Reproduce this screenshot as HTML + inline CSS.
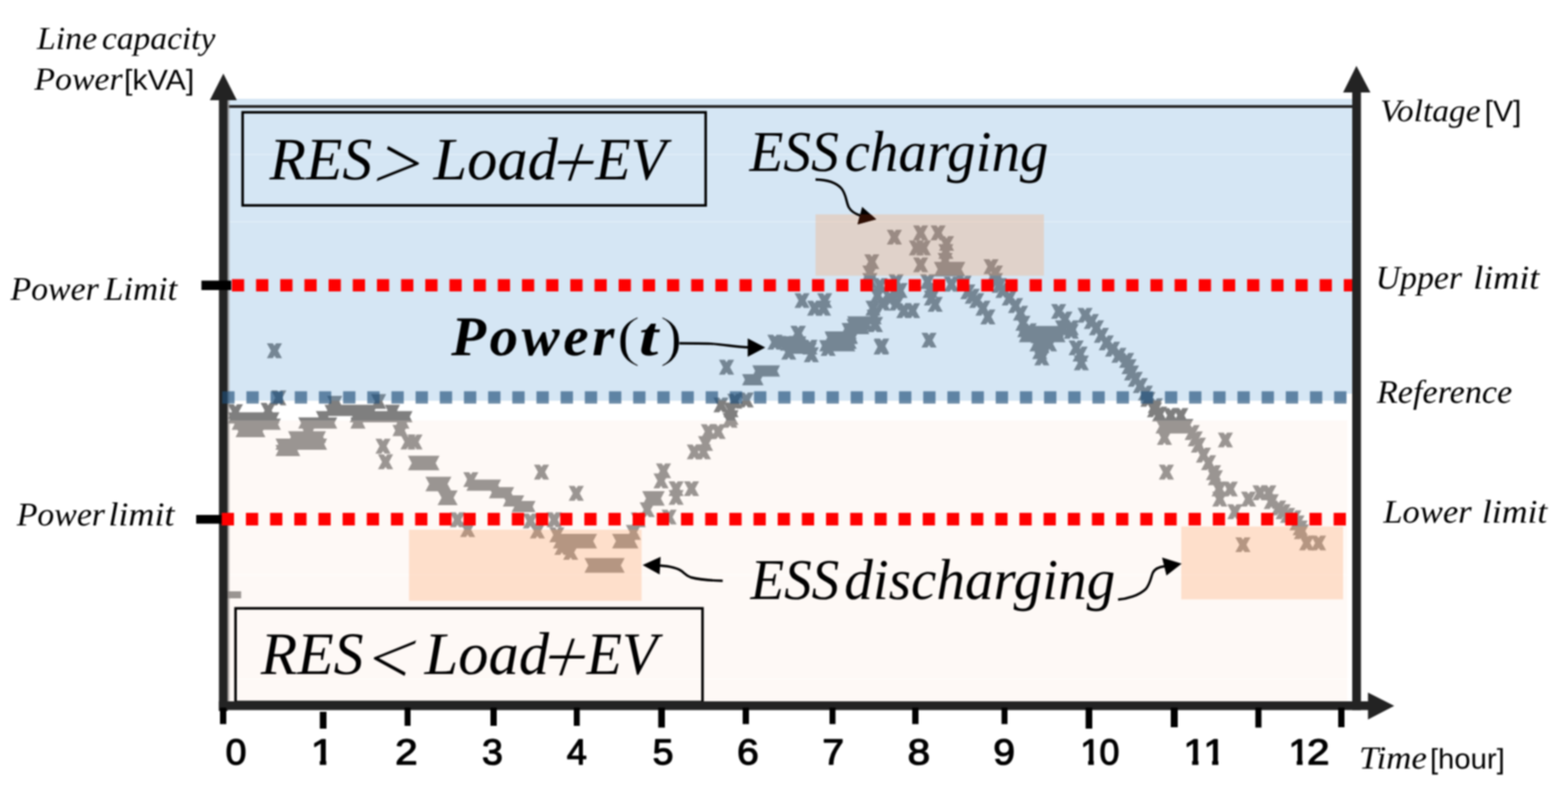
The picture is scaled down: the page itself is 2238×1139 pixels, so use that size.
<!DOCTYPE html>
<html lang="en"><head><meta charset="utf-8"><title>ESS charging / discharging power profile</title>
<style>html,body{margin:0;padding:0;background:#fff}body{width:2238px;height:1139px;overflow:hidden}svg{display:block;filter:blur(0.8px)}text{text-rendering:geometricPrecision}</style>
</head><body>
<svg width="2238" height="1139" viewBox="0 0 2238 1139" role="img" aria-label="Power and voltage profile over 12 hours with ESS charging and discharging zones">
<rect width="2238" height="1139" fill="#fff"/>
<g fill="#7f7f7f">
<path d="M391.7,500.6m-10.8,-10.6h8.4l2.4,3.6l2.4,-3.6h8.4l-5.8,10.6l5.8,10.6h-8.4l-2.4,-3.6l-2.4,3.6h-8.4l5.8,-10.6z"/>
<path d="M398.0,567.8m-10.8,-10.6h8.4l2.4,3.6l2.4,-3.6h8.4l-5.8,10.6l5.8,10.6h-8.4l-2.4,-3.6l-2.4,3.6h-8.4l5.8,-10.6z"/>
<path d="M336.0,587.5m-10.8,-10.6h8.4l2.4,3.6l2.4,-3.6h8.4l-5.8,10.6l5.8,10.6h-8.4l-2.4,-3.6l-2.4,3.6h-8.4l5.8,-10.6z"/>
<path d="M382.7,585.7m-10.8,-10.6h8.4l2.4,3.6l2.4,-3.6h8.4l-5.8,10.6l5.8,10.6h-8.4l-2.4,-3.6l-2.4,3.6h-8.4l5.8,-10.6z"/>
<path d="M546.7,636.8m-10.8,-10.6h8.4l2.4,3.6l2.4,-3.6h8.4l-5.8,10.6l5.8,10.6h-8.4l-2.4,-3.6l-2.4,3.6h-8.4l5.8,-10.6z"/>
<path d="M550.3,659.2m-10.8,-10.6h8.4l2.4,3.6l2.4,-3.6h8.4l-5.8,10.6l5.8,10.6h-8.4l-2.4,-3.6l-2.4,3.6h-8.4l5.8,-10.6z"/>
<path d="M582.4,630.8m-10.8,-10.6h8.4l2.4,3.6l2.4,-3.6h8.4l-5.8,10.6l5.8,10.6h-8.4l-2.4,-3.6l-2.4,3.6h-8.4l5.8,-10.6z"/>
<path d="M592.3,630.8m-10.8,-10.6h8.4l2.4,3.6l2.4,-3.6h8.4l-5.8,10.6l5.8,10.6h-8.4l-2.4,-3.6l-2.4,3.6h-8.4l5.8,-10.6z"/>
<path d="M635.3,710.5m-10.8,-10.6h8.4l2.4,3.6l2.4,-3.6h8.4l-5.8,10.6l5.8,10.6h-8.4l-2.4,-3.6l-2.4,3.6h-8.4l5.8,-10.6z"/>
<path d="M642.4,710.5m-10.8,-10.6h8.4l2.4,3.6l2.4,-3.6h8.4l-5.8,10.6l5.8,10.6h-8.4l-2.4,-3.6l-2.4,3.6h-8.4l5.8,-10.6z"/>
<path d="M672.0,684.5m-10.8,-10.6h8.4l2.4,3.6l2.4,-3.6h8.4l-5.8,10.6l5.8,10.6h-8.4l-2.4,-3.6l-2.4,3.6h-8.4l5.8,-10.6z"/>
<path d="M772.9,673.8m-10.8,-10.6h8.4l2.4,3.6l2.4,-3.6h8.4l-5.8,10.6l5.8,10.6h-8.4l-2.4,-3.6l-2.4,3.6h-8.4l5.8,-10.6z"/>
<path d="M822.5,704.2m-10.8,-10.6h8.4l2.4,3.6l2.4,-3.6h8.4l-5.8,10.6l5.8,10.6h-8.4l-2.4,-3.6l-2.4,3.6h-8.4l5.8,-10.6z"/>
<path d="M653.0,741.9m-10.8,-10.6h8.4l2.4,3.6l2.4,-3.6h8.4l-5.8,10.6l5.8,10.6h-8.4l-2.4,-3.6l-2.4,3.6h-8.4l5.8,-10.6z"/>
<path d="M791.0,741.9m-10.8,-10.6h8.4l2.4,3.6l2.4,-3.6h8.4l-5.8,10.6l5.8,10.6h-8.4l-2.4,-3.6l-2.4,3.6h-8.4l5.8,-10.6z"/>
<path d="M757.0,743.6m-10.8,-10.6h8.4l2.4,3.6l2.4,-3.6h8.4l-5.8,10.6l5.8,10.6h-8.4l-2.4,-3.6l-2.4,3.6h-8.4l5.8,-10.6z"/>
<path d="M667.5,756.0m-10.8,-10.6h8.4l2.4,3.6l2.4,-3.6h8.4l-5.8,10.6l5.8,10.6h-8.4l-2.4,-3.6l-2.4,3.6h-8.4l5.8,-10.6z"/>
<path d="M767.0,758.0m-10.8,-10.6h8.4l2.4,3.6l2.4,-3.6h8.4l-5.8,10.6l5.8,10.6h-8.4l-2.4,-3.6l-2.4,3.6h-8.4l5.8,-10.6z"/>
<path d="M794.8,763.4m-10.8,-10.6h8.4l2.4,3.6l2.4,-3.6h8.4l-5.8,10.6l5.8,10.6h-8.4l-2.4,-3.6l-2.4,3.6h-8.4l5.8,-10.6z"/>
<path d="M802.0,781.3m-10.8,-10.6h8.4l2.4,3.6l2.4,-3.6h8.4l-5.8,10.6l5.8,10.6h-8.4l-2.4,-3.6l-2.4,3.6h-8.4l5.8,-10.6z"/>
<path d="M814.5,788.5m-10.8,-10.6h8.4l2.4,3.6l2.4,-3.6h8.4l-5.8,10.6l5.8,10.6h-8.4l-2.4,-3.6l-2.4,3.6h-8.4l5.8,-10.6z"/>
<path d="M904.0,759.8m-10.8,-10.6h8.4l2.4,3.6l2.4,-3.6h8.4l-5.8,10.6l5.8,10.6h-8.4l-2.4,-3.6l-2.4,3.6h-8.4l5.8,-10.6z"/>
<path d="M947.0,672.0m-10.8,-10.6h8.4l2.4,3.6l2.4,-3.6h8.4l-5.8,10.6l5.8,10.6h-8.4l-2.4,-3.6l-2.4,3.6h-8.4l5.8,-10.6z"/>
<path d="M943.5,686.3m-10.8,-10.6h8.4l2.4,3.6l2.4,-3.6h8.4l-5.8,10.6l5.8,10.6h-8.4l-2.4,-3.6l-2.4,3.6h-8.4l5.8,-10.6z"/>
<path d="M923.8,727.5m-10.8,-10.6h8.4l2.4,3.6l2.4,-3.6h8.4l-5.8,10.6l5.8,10.6h-8.4l-2.4,-3.6l-2.4,3.6h-8.4l5.8,-10.6z"/>
<path d="M911.0,742.0m-10.8,-10.6h8.4l2.4,3.6l2.4,-3.6h8.4l-5.8,10.6l5.8,10.6h-8.4l-2.4,-3.6l-2.4,3.6h-8.4l5.8,-10.6z"/>
<path d="M955.0,738.0m-10.8,-10.6h8.4l2.4,3.6l2.4,-3.6h8.4l-5.8,10.6l5.8,10.6h-8.4l-2.4,-3.6l-2.4,3.6h-8.4l5.8,-10.6z"/>
<path d="M965.0,697.5m-10.8,-10.6h8.4l2.4,3.6l2.4,-3.6h8.4l-5.8,10.6l5.8,10.6h-8.4l-2.4,-3.6l-2.4,3.6h-8.4l5.8,-10.6z"/>
<path d="M987.0,697.5m-10.8,-10.6h8.4l2.4,3.6l2.4,-3.6h8.4l-5.8,10.6l5.8,10.6h-8.4l-2.4,-3.6l-2.4,3.6h-8.4l5.8,-10.6z"/>
<path d="M965.0,710.0m-10.8,-10.6h8.4l2.4,3.6l2.4,-3.6h8.4l-5.8,10.6l5.8,10.6h-8.4l-2.4,-3.6l-2.4,3.6h-8.4l5.8,-10.6z"/>
<path d="M1011.0,616.0m-10.8,-10.6h8.4l2.4,3.6l2.4,-3.6h8.4l-5.8,10.6l5.8,10.6h-8.4l-2.4,-3.6l-2.4,3.6h-8.4l5.8,-10.6z"/>
<path d="M1025.0,616.0m-10.8,-10.6h8.4l2.4,3.6l2.4,-3.6h8.4l-5.8,10.6l5.8,10.6h-8.4l-2.4,-3.6l-2.4,3.6h-8.4l5.8,-10.6z"/>
<path d="M1007.0,633.0m-10.8,-10.6h8.4l2.4,3.6l2.4,-3.6h8.4l-5.8,10.6l5.8,10.6h-8.4l-2.4,-3.6l-2.4,3.6h-8.4l5.8,-10.6z"/>
<path d="M991.0,645.0m-10.8,-10.6h8.4l2.4,3.6l2.4,-3.6h8.4l-5.8,10.6l5.8,10.6h-8.4l-2.4,-3.6l-2.4,3.6h-8.4l5.8,-10.6z"/>
<path d="M1004.0,645.0m-10.8,-10.6h8.4l2.4,3.6l2.4,-3.6h8.4l-5.8,10.6l5.8,10.6h-8.4l-2.4,-3.6l-2.4,3.6h-8.4l5.8,-10.6z"/>
<path d="M1042.0,600.0m-10.8,-10.6h8.4l2.4,3.6l2.4,-3.6h8.4l-5.8,10.6l5.8,10.6h-8.4l-2.4,-3.6l-2.4,3.6h-8.4l5.8,-10.6z"/>
<path d="M1037.0,524.2m-10.8,-10.6h8.4l2.4,3.6l2.4,-3.6h8.4l-5.8,10.6l5.8,10.6h-8.4l-2.4,-3.6l-2.4,3.6h-8.4l5.8,-10.6z"/>
<path d="M1106.0,488.4m-10.8,-10.6h8.4l2.4,3.6l2.4,-3.6h8.4l-5.8,10.6l5.8,10.6h-8.4l-2.4,-3.6l-2.4,3.6h-8.4l5.8,-10.6z"/>
<path d="M1124.0,490.0m-10.8,-10.6h8.4l2.4,3.6l2.4,-3.6h8.4l-5.8,10.6l5.8,10.6h-8.4l-2.4,-3.6l-2.4,3.6h-8.4l5.8,-10.6z"/>
<path d="M1139.0,475.8m-10.8,-10.6h8.4l2.4,3.6l2.4,-3.6h8.4l-5.8,10.6l5.8,10.6h-8.4l-2.4,-3.6l-2.4,3.6h-8.4l5.8,-10.6z"/>
<path d="M1140.0,493.8m-10.8,-10.6h8.4l2.4,3.6l2.4,-3.6h8.4l-5.8,10.6l5.8,10.6h-8.4l-2.4,-3.6l-2.4,3.6h-8.4l5.8,-10.6z"/>
<path d="M1156.0,495.5m-10.8,-10.6h8.4l2.4,3.6l2.4,-3.6h8.4l-5.8,10.6l5.8,10.6h-8.4l-2.4,-3.6l-2.4,3.6h-8.4l5.8,-10.6z"/>
<path d="M1125.8,502.7m-10.8,-10.6h8.4l2.4,3.6l2.4,-3.6h8.4l-5.8,10.6l5.8,10.6h-8.4l-2.4,-3.6l-2.4,3.6h-8.4l5.8,-10.6z"/>
<path d="M1158.0,506.3m-10.8,-10.6h8.4l2.4,3.6l2.4,-3.6h8.4l-5.8,10.6l5.8,10.6h-8.4l-2.4,-3.6l-2.4,3.6h-8.4l5.8,-10.6z"/>
<path d="M1182.0,497.3m-10.8,-10.6h8.4l2.4,3.6l2.4,-3.6h8.4l-5.8,10.6l5.8,10.6h-8.4l-2.4,-3.6l-2.4,3.6h-8.4l5.8,-10.6z"/>
<path d="M1247.7,452.5m-10.8,-10.6h8.4l2.4,3.6l2.4,-3.6h8.4l-5.8,10.6l5.8,10.6h-8.4l-2.4,-3.6l-2.4,3.6h-8.4l5.8,-10.6z"/>
<path d="M1249.5,463.3m-10.8,-10.6h8.4l2.4,3.6l2.4,-3.6h8.4l-5.8,10.6l5.8,10.6h-8.4l-2.4,-3.6l-2.4,3.6h-8.4l5.8,-10.6z"/>
<path d="M1258.4,493.8m-10.8,-10.6h8.4l2.4,3.6l2.4,-3.6h8.4l-5.8,10.6l5.8,10.6h-8.4l-2.4,-3.6l-2.4,3.6h-8.4l5.8,-10.6z"/>
<path d="M1029.0,578.0m-10.8,-10.6h8.4l2.4,3.6l2.4,-3.6h8.4l-5.8,10.6l5.8,10.6h-8.4l-2.4,-3.6l-2.4,3.6h-8.4l5.8,-10.6z"/>
<path d="M1048.7,572.6m-10.8,-10.6h8.4l2.4,3.6l2.4,-3.6h8.4l-5.8,10.6l5.8,10.6h-8.4l-2.4,-3.6l-2.4,3.6h-8.4l5.8,-10.6z"/>
<path d="M1065.0,570.8m-10.8,-10.6h8.4l2.4,3.6l2.4,-3.6h8.4l-5.8,10.6l5.8,10.6h-8.4l-2.4,-3.6l-2.4,3.6h-8.4l5.8,-10.6z"/>
<path d="M1043.4,585.0m-10.8,-10.6h8.4l2.4,3.6l2.4,-3.6h8.4l-5.8,10.6l5.8,10.6h-8.4l-2.4,-3.6l-2.4,3.6h-8.4l5.8,-10.6z"/>
<path d="M1043.4,596.0m-10.8,-10.6h8.4l2.4,3.6l2.4,-3.6h8.4l-5.8,10.6l5.8,10.6h-8.4l-2.4,-3.6l-2.4,3.6h-8.4l5.8,-10.6z"/>
<path d="M1276.5,338.5m-10.8,-10.6h8.4l2.4,3.6l2.4,-3.6h8.4l-5.8,10.6l5.8,10.6h-8.4l-2.4,-3.6l-2.4,3.6h-8.4l5.8,-10.6z"/>
<path d="M1314.0,332.3m-10.8,-10.6h8.4l2.4,3.6l2.4,-3.6h8.4l-5.8,10.6l5.8,10.6h-8.4l-2.4,-3.6l-2.4,3.6h-8.4l5.8,-10.6z"/>
<path d="M1339.0,332.3m-10.8,-10.6h8.4l2.4,3.6l2.4,-3.6h8.4l-5.8,10.6l5.8,10.6h-8.4l-2.4,-3.6l-2.4,3.6h-8.4l5.8,-10.6z"/>
<path d="M1308.0,353.8m-10.8,-10.6h8.4l2.4,3.6l2.4,-3.6h8.4l-5.8,10.6l5.8,10.6h-8.4l-2.4,-3.6l-2.4,3.6h-8.4l5.8,-10.6z"/>
<path d="M1318.0,353.8m-10.8,-10.6h8.4l2.4,3.6l2.4,-3.6h8.4l-5.8,10.6l5.8,10.6h-8.4l-2.4,-3.6l-2.4,3.6h-8.4l5.8,-10.6z"/>
<path d="M1351.0,347.5m-10.8,-10.6h8.4l2.4,3.6l2.4,-3.6h8.4l-5.8,10.6l5.8,10.6h-8.4l-2.4,-3.6l-2.4,3.6h-8.4l5.8,-10.6z"/>
<path d="M1350.0,359.0m-10.8,-10.6h8.4l2.4,3.6l2.4,-3.6h8.4l-5.8,10.6l5.8,10.6h-8.4l-2.4,-3.6l-2.4,3.6h-8.4l5.8,-10.6z"/>
<path d="M1314.0,378.0m-10.8,-10.6h8.4l2.4,3.6l2.4,-3.6h8.4l-5.8,10.6l5.8,10.6h-8.4l-2.4,-3.6l-2.4,3.6h-8.4l5.8,-10.6z"/>
<path d="M1244.3,373.5m-10.8,-10.6h8.4l2.4,3.6l2.4,-3.6h8.4l-5.8,10.6l5.8,10.6h-8.4l-2.4,-3.6l-2.4,3.6h-8.4l5.8,-10.6z"/>
<path d="M1241.6,389.6m-10.8,-10.6h8.4l2.4,3.6l2.4,-3.6h8.4l-5.8,10.6l5.8,10.6h-8.4l-2.4,-3.6l-2.4,3.6h-8.4l5.8,-10.6z"/>
<path d="M1349.0,371.7m-10.8,-10.6h8.4l2.4,3.6l2.4,-3.6h8.4l-5.8,10.6l5.8,10.6h-8.4l-2.4,-3.6l-2.4,3.6h-8.4l5.8,-10.6z"/>
<path d="M1414.5,380.6m-10.8,-10.6h8.4l2.4,3.6l2.4,-3.6h8.4l-5.8,10.6l5.8,10.6h-8.4l-2.4,-3.6l-2.4,3.6h-8.4l5.8,-10.6z"/>
<path d="M1420.8,389.6m-10.8,-10.6h8.4l2.4,3.6l2.4,-3.6h8.4l-5.8,10.6l5.8,10.6h-8.4l-2.4,-3.6l-2.4,3.6h-8.4l5.8,-10.6z"/>
<path d="M1144.8,429.0m-10.8,-10.6h8.4l2.4,3.6l2.4,-3.6h8.4l-5.8,10.6l5.8,10.6h-8.4l-2.4,-3.6l-2.4,3.6h-8.4l5.8,-10.6z"/>
<path d="M1177.0,429.0m-10.8,-10.6h8.4l2.4,3.6l2.4,-3.6h8.4l-5.8,10.6l5.8,10.6h-8.4l-2.4,-3.6l-2.4,3.6h-8.4l5.8,-10.6z"/>
<path d="M1162.7,439.8m-10.8,-10.6h8.4l2.4,3.6l2.4,-3.6h8.4l-5.8,10.6l5.8,10.6h-8.4l-2.4,-3.6l-2.4,3.6h-8.4l5.8,-10.6z"/>
<path d="M1175.3,439.8m-10.8,-10.6h8.4l2.4,3.6l2.4,-3.6h8.4l-5.8,10.6l5.8,10.6h-8.4l-2.4,-3.6l-2.4,3.6h-8.4l5.8,-10.6z"/>
<path d="M1241.6,400.4m-10.8,-10.6h8.4l2.4,3.6l2.4,-3.6h8.4l-5.8,10.6l5.8,10.6h-8.4l-2.4,-3.6l-2.4,3.6h-8.4l5.8,-10.6z"/>
<path d="M1256.0,407.5m-10.8,-10.6h8.4l2.4,3.6l2.4,-3.6h8.4l-5.8,10.6l5.8,10.6h-8.4l-2.4,-3.6l-2.4,3.6h-8.4l5.8,-10.6z"/>
<path d="M1279.0,402.0m-10.8,-10.6h8.4l2.4,3.6l2.4,-3.6h8.4l-5.8,10.6l5.8,10.6h-8.4l-2.4,-3.6l-2.4,3.6h-8.4l5.8,-10.6z"/>
<path d="M1284.6,414.7m-10.8,-10.6h8.4l2.4,3.6l2.4,-3.6h8.4l-5.8,10.6l5.8,10.6h-8.4l-2.4,-3.6l-2.4,3.6h-8.4l5.8,-10.6z"/>
<path d="M1252.3,421.9m-10.8,-10.6h8.4l2.4,3.6l2.4,-3.6h8.4l-5.8,10.6l5.8,10.6h-8.4l-2.4,-3.6l-2.4,3.6h-8.4l5.8,-10.6z"/>
<path d="M1270.0,425.4m-10.8,-10.6h8.4l2.4,3.6l2.4,-3.6h8.4l-5.8,10.6l5.8,10.6h-8.4l-2.4,-3.6l-2.4,3.6h-8.4l5.8,-10.6z"/>
<path d="M1290.0,443.4m-10.8,-10.6h8.4l2.4,3.6l2.4,-3.6h8.4l-5.8,10.6l5.8,10.6h-8.4l-2.4,-3.6l-2.4,3.6h-8.4l5.8,-10.6z"/>
<path d="M1302.5,443.4m-10.8,-10.6h8.4l2.4,3.6l2.4,-3.6h8.4l-5.8,10.6l5.8,10.6h-8.4l-2.4,-3.6l-2.4,3.6h-8.4l5.8,-10.6z"/>
<path d="M1260.0,432.6m-10.8,-10.6h8.4l2.4,3.6l2.4,-3.6h8.4l-5.8,10.6l5.8,10.6h-8.4l-2.4,-3.6l-2.4,3.6h-8.4l5.8,-10.6z"/>
<path d="M1280.0,432.6m-10.8,-10.6h8.4l2.4,3.6l2.4,-3.6h8.4l-5.8,10.6l5.8,10.6h-8.4l-2.4,-3.6l-2.4,3.6h-8.4l5.8,-10.6z"/>
<path d="M1246.0,439.8m-10.8,-10.6h8.4l2.4,3.6l2.4,-3.6h8.4l-5.8,10.6l5.8,10.6h-8.4l-2.4,-3.6l-2.4,3.6h-8.4l5.8,-10.6z"/>
<path d="M1248.7,463.0m-10.8,-10.6h8.4l2.4,3.6l2.4,-3.6h8.4l-5.8,10.6l5.8,10.6h-8.4l-2.4,-3.6l-2.4,3.6h-8.4l5.8,-10.6z"/>
<path d="M1139.4,475.6m-10.8,-10.6h8.4l2.4,3.6l2.4,-3.6h8.4l-5.8,10.6l5.8,10.6h-8.4l-2.4,-3.6l-2.4,3.6h-8.4l5.8,-10.6z"/>
<path d="M1257.7,495.3m-10.8,-10.6h8.4l2.4,3.6l2.4,-3.6h8.4l-5.8,10.6l5.8,10.6h-8.4l-2.4,-3.6l-2.4,3.6h-8.4l5.8,-10.6z"/>
<path d="M1326.0,485.5m-10.8,-10.6h8.4l2.4,3.6l2.4,-3.6h8.4l-5.8,10.6l5.8,10.6h-8.4l-2.4,-3.6l-2.4,3.6h-8.4l5.8,-10.6z"/>
<path d="M1324.0,402.0m-10.8,-10.6h8.4l2.4,3.6l2.4,-3.6h8.4l-5.8,10.6l5.8,10.6h-8.4l-2.4,-3.6l-2.4,3.6h-8.4l5.8,-10.6z"/>
<path d="M1327.6,414.7m-10.8,-10.6h8.4l2.4,3.6l2.4,-3.6h8.4l-5.8,10.6l5.8,10.6h-8.4l-2.4,-3.6l-2.4,3.6h-8.4l5.8,-10.6z"/>
<path d="M1329.4,425.4m-10.8,-10.6h8.4l2.4,3.6l2.4,-3.6h8.4l-5.8,10.6l5.8,10.6h-8.4l-2.4,-3.6l-2.4,3.6h-8.4l5.8,-10.6z"/>
<path d="M1334.8,434.4m-10.8,-10.6h8.4l2.4,3.6l2.4,-3.6h8.4l-5.8,10.6l5.8,10.6h-8.4l-2.4,-3.6l-2.4,3.6h-8.4l5.8,-10.6z"/>
<path d="M1358.0,405.7m-10.8,-10.6h8.4l2.4,3.6l2.4,-3.6h8.4l-5.8,10.6l5.8,10.6h-8.4l-2.4,-3.6l-2.4,3.6h-8.4l5.8,-10.6z"/>
<path d="M1376.0,404.0m-10.8,-10.6h8.4l2.4,3.6l2.4,-3.6h8.4l-5.8,10.6l5.8,10.6h-8.4l-2.4,-3.6l-2.4,3.6h-8.4l5.8,-10.6z"/>
<path d="M1381.4,416.5m-10.8,-10.6h8.4l2.4,3.6l2.4,-3.6h8.4l-5.8,10.6l5.8,10.6h-8.4l-2.4,-3.6l-2.4,3.6h-8.4l5.8,-10.6z"/>
<path d="M1387.7,422.8m-10.8,-10.6h8.4l2.4,3.6l2.4,-3.6h8.4l-5.8,10.6l5.8,10.6h-8.4l-2.4,-3.6l-2.4,3.6h-8.4l5.8,-10.6z"/>
<path d="M1394.0,429.0m-10.8,-10.6h8.4l2.4,3.6l2.4,-3.6h8.4l-5.8,10.6l5.8,10.6h-8.4l-2.4,-3.6l-2.4,3.6h-8.4l5.8,-10.6z"/>
<path d="M1403.0,439.8m-10.8,-10.6h8.4l2.4,3.6l2.4,-3.6h8.4l-5.8,10.6l5.8,10.6h-8.4l-2.4,-3.6l-2.4,3.6h-8.4l5.8,-10.6z"/>
<path d="M1410.0,452.3m-10.8,-10.6h8.4l2.4,3.6l2.4,-3.6h8.4l-5.8,10.6l5.8,10.6h-8.4l-2.4,-3.6l-2.4,3.6h-8.4l5.8,-10.6z"/>
<path d="M1420.8,400.4m-10.8,-10.6h8.4l2.4,3.6l2.4,-3.6h8.4l-5.8,10.6l5.8,10.6h-8.4l-2.4,-3.6l-2.4,3.6h-8.4l5.8,-10.6z"/>
<path d="M1426.2,407.5m-10.8,-10.6h8.4l2.4,3.6l2.4,-3.6h8.4l-5.8,10.6l5.8,10.6h-8.4l-2.4,-3.6l-2.4,3.6h-8.4l5.8,-10.6z"/>
<path d="M1431.5,414.7m-10.8,-10.6h8.4l2.4,3.6l2.4,-3.6h8.4l-5.8,10.6l5.8,10.6h-8.4l-2.4,-3.6l-2.4,3.6h-8.4l5.8,-10.6z"/>
<path d="M1440.5,425.4m-10.8,-10.6h8.4l2.4,3.6l2.4,-3.6h8.4l-5.8,10.6l5.8,10.6h-8.4l-2.4,-3.6l-2.4,3.6h-8.4l5.8,-10.6z"/>
<path d="M1449.5,436.2m-10.8,-10.6h8.4l2.4,3.6l2.4,-3.6h8.4l-5.8,10.6l5.8,10.6h-8.4l-2.4,-3.6l-2.4,3.6h-8.4l5.8,-10.6z"/>
<path d="M1456.6,447.0m-10.8,-10.6h8.4l2.4,3.6l2.4,-3.6h8.4l-5.8,10.6l5.8,10.6h-8.4l-2.4,-3.6l-2.4,3.6h-8.4l5.8,-10.6z"/>
<path d="M1460.0,461.3m-10.8,-10.6h8.4l2.4,3.6l2.4,-3.6h8.4l-5.8,10.6l5.8,10.6h-8.4l-2.4,-3.6l-2.4,3.6h-8.4l5.8,-10.6z"/>
<path d="M1469.0,472.0m-10.8,-10.6h8.4l2.4,3.6l2.4,-3.6h8.4l-5.8,10.6l5.8,10.6h-8.4l-2.4,-3.6l-2.4,3.6h-8.4l5.8,-10.6z"/>
<path d="M1481.7,479.2m-10.8,-10.6h8.4l2.4,3.6l2.4,-3.6h8.4l-5.8,10.6l5.8,10.6h-8.4l-2.4,-3.6l-2.4,3.6h-8.4l5.8,-10.6z"/>
<path d="M1487.0,493.5m-10.8,-10.6h8.4l2.4,3.6l2.4,-3.6h8.4l-5.8,10.6l5.8,10.6h-8.4l-2.4,-3.6l-2.4,3.6h-8.4l5.8,-10.6z"/>
<path d="M1480.0,491.0m-10.8,-10.6h8.4l2.4,3.6l2.4,-3.6h8.4l-5.8,10.6l5.8,10.6h-8.4l-2.4,-3.6l-2.4,3.6h-8.4l5.8,-10.6z"/>
<path d="M1498.0,491.0m-10.8,-10.6h8.4l2.4,3.6l2.4,-3.6h8.4l-5.8,10.6l5.8,10.6h-8.4l-2.4,-3.6l-2.4,3.6h-8.4l5.8,-10.6z"/>
<path d="M1484.0,502.0m-10.8,-10.6h8.4l2.4,3.6l2.4,-3.6h8.4l-5.8,10.6l5.8,10.6h-8.4l-2.4,-3.6l-2.4,3.6h-8.4l5.8,-10.6z"/>
<path d="M1487.0,510.8m-10.8,-10.6h8.4l2.4,3.6l2.4,-3.6h8.4l-5.8,10.6l5.8,10.6h-8.4l-2.4,-3.6l-2.4,3.6h-8.4l5.8,-10.6z"/>
<path d="M1511.0,444.5m-10.8,-10.6h8.4l2.4,3.6l2.4,-3.6h8.4l-5.8,10.6l5.8,10.6h-8.4l-2.4,-3.6l-2.4,3.6h-8.4l5.8,-10.6z"/>
<path d="M1520.0,455.3m-10.8,-10.6h8.4l2.4,3.6l2.4,-3.6h8.4l-5.8,10.6l5.8,10.6h-8.4l-2.4,-3.6l-2.4,3.6h-8.4l5.8,-10.6z"/>
<path d="M1516.5,467.8m-10.8,-10.6h8.4l2.4,3.6l2.4,-3.6h8.4l-5.8,10.6l5.8,10.6h-8.4l-2.4,-3.6l-2.4,3.6h-8.4l5.8,-10.6z"/>
<path d="M1529.0,467.8m-10.8,-10.6h8.4l2.4,3.6l2.4,-3.6h8.4l-5.8,10.6l5.8,10.6h-8.4l-2.4,-3.6l-2.4,3.6h-8.4l5.8,-10.6z"/>
<path d="M1529.0,473.0m-10.8,-10.6h8.4l2.4,3.6l2.4,-3.6h8.4l-5.8,10.6l5.8,10.6h-8.4l-2.4,-3.6l-2.4,3.6h-8.4l5.8,-10.6z"/>
<path d="M1548.7,450.0m-10.8,-10.6h8.4l2.4,3.6l2.4,-3.6h8.4l-5.8,10.6l5.8,10.6h-8.4l-2.4,-3.6l-2.4,3.6h-8.4l5.8,-10.6z"/>
<path d="M1557.7,458.9m-10.8,-10.6h8.4l2.4,3.6l2.4,-3.6h8.4l-5.8,10.6l5.8,10.6h-8.4l-2.4,-3.6l-2.4,3.6h-8.4l5.8,-10.6z"/>
<path d="M1565.0,467.8m-10.8,-10.6h8.4l2.4,3.6l2.4,-3.6h8.4l-5.8,10.6l5.8,10.6h-8.4l-2.4,-3.6l-2.4,3.6h-8.4l5.8,-10.6z"/>
<path d="M1572.0,478.6m-10.8,-10.6h8.4l2.4,3.6l2.4,-3.6h8.4l-5.8,10.6l5.8,10.6h-8.4l-2.4,-3.6l-2.4,3.6h-8.4l5.8,-10.6z"/>
<path d="M1579.0,489.3m-10.8,-10.6h8.4l2.4,3.6l2.4,-3.6h8.4l-5.8,10.6l5.8,10.6h-8.4l-2.4,-3.6l-2.4,3.6h-8.4l5.8,-10.6z"/>
<path d="M1588.0,498.3m-10.8,-10.6h8.4l2.4,3.6l2.4,-3.6h8.4l-5.8,10.6l5.8,10.6h-8.4l-2.4,-3.6l-2.4,3.6h-8.4l5.8,-10.6z"/>
<path d="M1597.0,507.2m-10.8,-10.6h8.4l2.4,3.6l2.4,-3.6h8.4l-5.8,10.6l5.8,10.6h-8.4l-2.4,-3.6l-2.4,3.6h-8.4l5.8,-10.6z"/>
<path d="M1608.0,514.4m-10.8,-10.6h8.4l2.4,3.6l2.4,-3.6h8.4l-5.8,10.6l5.8,10.6h-8.4l-2.4,-3.6l-2.4,3.6h-8.4l5.8,-10.6z"/>
<path d="M1611.5,523.3m-10.8,-10.6h8.4l2.4,3.6l2.4,-3.6h8.4l-5.8,10.6l5.8,10.6h-8.4l-2.4,-3.6l-2.4,3.6h-8.4l5.8,-10.6z"/>
<path d="M1615.0,532.3m-10.8,-10.6h8.4l2.4,3.6l2.4,-3.6h8.4l-5.8,10.6l5.8,10.6h-8.4l-2.4,-3.6l-2.4,3.6h-8.4l5.8,-10.6z"/>
<path d="M1620.4,541.3m-10.8,-10.6h8.4l2.4,3.6l2.4,-3.6h8.4l-5.8,10.6l5.8,10.6h-8.4l-2.4,-3.6l-2.4,3.6h-8.4l5.8,-10.6z"/>
<path d="M1627.6,550.3m-10.8,-10.6h8.4l2.4,3.6l2.4,-3.6h8.4l-5.8,10.6l5.8,10.6h-8.4l-2.4,-3.6l-2.4,3.6h-8.4l5.8,-10.6z"/>
<path d="M1634.8,561.0m-10.8,-10.6h8.4l2.4,3.6l2.4,-3.6h8.4l-5.8,10.6l5.8,10.6h-8.4l-2.4,-3.6l-2.4,3.6h-8.4l5.8,-10.6z"/>
<path d="M1638.4,570.0m-10.8,-10.6h8.4l2.4,3.6l2.4,-3.6h8.4l-5.8,10.6l5.8,10.6h-8.4l-2.4,-3.6l-2.4,3.6h-8.4l5.8,-10.6z"/>
<path d="M1649.0,579.0m-10.8,-10.6h8.4l2.4,3.6l2.4,-3.6h8.4l-5.8,10.6l5.8,10.6h-8.4l-2.4,-3.6l-2.4,3.6h-8.4l5.8,-10.6z"/>
<path d="M1536.0,496.5m-10.8,-10.6h8.4l2.4,3.6l2.4,-3.6h8.4l-5.8,10.6l5.8,10.6h-8.4l-2.4,-3.6l-2.4,3.6h-8.4l5.8,-10.6z"/>
<path d="M1541.6,505.4m-10.8,-10.6h8.4l2.4,3.6l2.4,-3.6h8.4l-5.8,10.6l5.8,10.6h-8.4l-2.4,-3.6l-2.4,3.6h-8.4l5.8,-10.6z"/>
<path d="M1543.4,518.0m-10.8,-10.6h8.4l2.4,3.6l2.4,-3.6h8.4l-5.8,10.6l5.8,10.6h-8.4l-2.4,-3.6l-2.4,3.6h-8.4l5.8,-10.6z"/>
<path d="M1647.8,585.0m-10.8,-10.6h8.4l2.4,3.6l2.4,-3.6h8.4l-5.8,10.6l5.8,10.6h-8.4l-2.4,-3.6l-2.4,3.6h-8.4l5.8,-10.6z"/>
<path d="M1655.0,591.0m-10.8,-10.6h8.4l2.4,3.6l2.4,-3.6h8.4l-5.8,10.6l5.8,10.6h-8.4l-2.4,-3.6l-2.4,3.6h-8.4l5.8,-10.6z"/>
<path d="M1671.0,593.0m-10.8,-10.6h8.4l2.4,3.6l2.4,-3.6h8.4l-5.8,10.6l5.8,10.6h-8.4l-2.4,-3.6l-2.4,3.6h-8.4l5.8,-10.6z"/>
<path d="M1685.4,593.0m-10.8,-10.6h8.4l2.4,3.6l2.4,-3.6h8.4l-5.8,10.6l5.8,10.6h-8.4l-2.4,-3.6l-2.4,3.6h-8.4l5.8,-10.6z"/>
<path d="M1662.0,624.5m-10.8,-10.6h8.4l2.4,3.6l2.4,-3.6h8.4l-5.8,10.6l5.8,10.6h-8.4l-2.4,-3.6l-2.4,3.6h-8.4l5.8,-10.6z"/>
<path d="M1701.6,617.3m-10.8,-10.6h8.4l2.4,3.6l2.4,-3.6h8.4l-5.8,10.6l5.8,10.6h-8.4l-2.4,-3.6l-2.4,3.6h-8.4l5.8,-10.6z"/>
<path d="M1706.0,626.3m-10.8,-10.6h8.4l2.4,3.6l2.4,-3.6h8.4l-5.8,10.6l5.8,10.6h-8.4l-2.4,-3.6l-2.4,3.6h-8.4l5.8,-10.6z"/>
<path d="M1710.5,635.3m-10.8,-10.6h8.4l2.4,3.6l2.4,-3.6h8.4l-5.8,10.6l5.8,10.6h-8.4l-2.4,-3.6l-2.4,3.6h-8.4l5.8,-10.6z"/>
<path d="M1717.7,649.6m-10.8,-10.6h8.4l2.4,3.6l2.4,-3.6h8.4l-5.8,10.6l5.8,10.6h-8.4l-2.4,-3.6l-2.4,3.6h-8.4l5.8,-10.6z"/>
<path d="M1725.0,660.4m-10.8,-10.6h8.4l2.4,3.6l2.4,-3.6h8.4l-5.8,10.6l5.8,10.6h-8.4l-2.4,-3.6l-2.4,3.6h-8.4l5.8,-10.6z"/>
<path d="M1732.0,674.7m-10.8,-10.6h8.4l2.4,3.6l2.4,-3.6h8.4l-5.8,10.6l5.8,10.6h-8.4l-2.4,-3.6l-2.4,3.6h-8.4l5.8,-10.6z"/>
<path d="M1734.7,681.9m-10.8,-10.6h8.4l2.4,3.6l2.4,-3.6h8.4l-5.8,10.6l5.8,10.6h-8.4l-2.4,-3.6l-2.4,3.6h-8.4l5.8,-10.6z"/>
<path d="M1749.0,628.0m-10.8,-10.6h8.4l2.4,3.6l2.4,-3.6h8.4l-5.8,10.6l5.8,10.6h-8.4l-2.4,-3.6l-2.4,3.6h-8.4l5.8,-10.6z"/>
<path d="M1664.8,673.8m-10.8,-10.6h8.4l2.4,3.6l2.4,-3.6h8.4l-5.8,10.6l5.8,10.6h-8.4l-2.4,-3.6l-2.4,3.6h-8.4l5.8,-10.6z"/>
<path d="M1740.0,698.0m-10.8,-10.6h8.4l2.4,3.6l2.4,-3.6h8.4l-5.8,10.6l5.8,10.6h-8.4l-2.4,-3.6l-2.4,3.6h-8.4l5.8,-10.6z"/>
<path d="M1756.0,698.0m-10.8,-10.6h8.4l2.4,3.6l2.4,-3.6h8.4l-5.8,10.6l5.8,10.6h-8.4l-2.4,-3.6l-2.4,3.6h-8.4l5.8,-10.6z"/>
<path d="M1741.0,712.3m-10.8,-10.6h8.4l2.4,3.6l2.4,-3.6h8.4l-5.8,10.6l5.8,10.6h-8.4l-2.4,-3.6l-2.4,3.6h-8.4l5.8,-10.6z"/>
<path d="M1762.5,730.3m-10.8,-10.6h8.4l2.4,3.6l2.4,-3.6h8.4l-5.8,10.6l5.8,10.6h-8.4l-2.4,-3.6l-2.4,3.6h-8.4l5.8,-10.6z"/>
<path d="M1782.0,712.3m-10.8,-10.6h8.4l2.4,3.6l2.4,-3.6h8.4l-5.8,10.6l5.8,10.6h-8.4l-2.4,-3.6l-2.4,3.6h-8.4l5.8,-10.6z"/>
<path d="M1798.4,703.4m-10.8,-10.6h8.4l2.4,3.6l2.4,-3.6h8.4l-5.8,10.6l5.8,10.6h-8.4l-2.4,-3.6l-2.4,3.6h-8.4l5.8,-10.6z"/>
<path d="M1811.0,703.4m-10.8,-10.6h8.4l2.4,3.6l2.4,-3.6h8.4l-5.8,10.6l5.8,10.6h-8.4l-2.4,-3.6l-2.4,3.6h-8.4l5.8,-10.6z"/>
<path d="M1814.5,716.0m-10.8,-10.6h8.4l2.4,3.6l2.4,-3.6h8.4l-5.8,10.6l5.8,10.6h-8.4l-2.4,-3.6l-2.4,3.6h-8.4l5.8,-10.6z"/>
<path d="M1825.0,725.0m-10.8,-10.6h8.4l2.4,3.6l2.4,-3.6h8.4l-5.8,10.6l5.8,10.6h-8.4l-2.4,-3.6l-2.4,3.6h-8.4l5.8,-10.6z"/>
<path d="M1831.4,730.3m-10.8,-10.6h8.4l2.4,3.6l2.4,-3.6h8.4l-5.8,10.6l5.8,10.6h-8.4l-2.4,-3.6l-2.4,3.6h-8.4l5.8,-10.6z"/>
<path d="M1837.8,735.6m-10.8,-10.6h8.4l2.4,3.6l2.4,-3.6h8.4l-5.8,10.6l5.8,10.6h-8.4l-2.4,-3.6l-2.4,3.6h-8.4l5.8,-10.6z"/>
<path d="M1846.7,739.2m-10.8,-10.6h8.4l2.4,3.6l2.4,-3.6h8.4l-5.8,10.6l5.8,10.6h-8.4l-2.4,-3.6l-2.4,3.6h-8.4l5.8,-10.6z"/>
<path d="M1851.2,746.4m-10.8,-10.6h8.4l2.4,3.6l2.4,-3.6h8.4l-5.8,10.6l5.8,10.6h-8.4l-2.4,-3.6l-2.4,3.6h-8.4l5.8,-10.6z"/>
<path d="M1855.7,753.5m-10.8,-10.6h8.4l2.4,3.6l2.4,-3.6h8.4l-5.8,10.6l5.8,10.6h-8.4l-2.4,-3.6l-2.4,3.6h-8.4l5.8,-10.6z"/>
<path d="M1857.5,759.0m-10.8,-10.6h8.4l2.4,3.6l2.4,-3.6h8.4l-5.8,10.6l5.8,10.6h-8.4l-2.4,-3.6l-2.4,3.6h-8.4l5.8,-10.6z"/>
<path d="M1774.0,777.5m-10.8,-10.6h8.4l2.4,3.6l2.4,-3.6h8.4l-5.8,10.6l5.8,10.6h-8.4l-2.4,-3.6l-2.4,3.6h-8.4l5.8,-10.6z"/>
<path d="M1865.0,775.0m-10.8,-10.6h8.4l2.4,3.6l2.4,-3.6h8.4l-5.8,10.6l5.8,10.6h-8.4l-2.4,-3.6l-2.4,3.6h-8.4l5.8,-10.6z"/>
<path d="M1882.0,775.0m-10.8,-10.6h8.4l2.4,3.6l2.4,-3.6h8.4l-5.8,10.6l5.8,10.6h-8.4l-2.4,-3.6l-2.4,3.6h-8.4l5.8,-10.6z"/>
<path d="M325.2,588.5H398.8l-4.0,8.0l4.0,8.0H325.2l4.0,-8.0Z"/>
<path d="M330.7,597.5H400.8l-4.0,8.0l4.0,8.0H330.7l4.0,-8.0Z"/>
<path d="M336.2,608.0H378.8l-4.0,8.0l4.0,8.0H336.2l4.0,-8.0Z"/>
<path d="M466.9,565.0H488.5l-4.0,8.0l4.0,8.0H466.9l4.0,-8.0Z"/>
<path d="M529.6,562.6H551.2l-5.5,10.4l5.5,10.4H529.6l5.5,-10.4Z"/>
<path d="M463.2,577.7H538.8l-4.0,8.0l4.0,8.0H463.2l4.0,-8.0Z"/>
<path d="M549.2,577.7H570.8l-4.0,8.0l4.0,8.0H549.2l4.0,-8.0Z"/>
<path d="M450.8,586.7H472.4l-4.0,8.0l4.0,8.0H450.8l4.0,-8.0Z"/>
<path d="M499.2,586.7H588.8l-4.0,8.0l4.0,8.0H499.2l4.0,-8.0Z"/>
<path d="M425.7,595.7H481.3l-4.0,8.0l4.0,8.0H425.7l4.0,-8.0Z"/>
<path d="M500.1,595.7H521.7l-4.0,8.0l4.0,8.0H500.1l4.0,-8.0Z"/>
<path d="M562.8,595.7H584.4l-4.0,8.0l4.0,8.0H562.8l4.0,-8.0Z"/>
<path d="M429.2,606.4H450.8l-4.0,8.0l4.0,8.0H429.2l4.0,-8.0Z"/>
<path d="M560.2,606.4H581.8l-4.0,8.0l4.0,8.0H560.2l4.0,-8.0Z"/>
<path d="M411.2,615.4H465.2l-4.0,8.0l4.0,8.0H411.2l4.0,-8.0Z"/>
<path d="M393.2,626.0H466.8l-4.0,8.0l4.0,8.0H393.2l4.0,-8.0Z"/>
<path d="M393.2,635.0H428.5l-4.0,8.0l4.0,8.0H393.2l4.0,-8.0Z"/>
<path d="M582.2,650.5H627.3l-5.5,10.4l5.5,10.4H582.2l5.5,-10.4Z"/>
<path d="M607.2,680.4H644.3l-5.5,10.4l5.5,10.4H607.2l5.5,-10.4Z"/>
<path d="M665.7,684.6H715.1l-4.0,8.0l4.0,8.0H665.7l4.0,-8.0Z"/>
<path d="M697.9,695.3H733.8l-4.0,8.0l4.0,8.0H697.9l4.0,-8.0Z"/>
<path d="M717.7,707.0H748.2l-4.0,8.0l4.0,8.0H717.7l4.0,-8.0Z"/>
<path d="M730.2,715.0H764.3l-4.0,8.0l4.0,8.0H730.2l4.0,-8.0Z"/>
<path d="M789.2,761.9H852.2l-5.5,10.4l5.5,10.4H789.2l5.5,-10.4Z"/>
<path d="M834.2,796.6H891.6l-5.5,10.4l5.5,10.4H834.2l5.5,-10.4Z"/>
<path d="M873.6,761.9H911.3l-5.5,10.4l5.5,10.4H873.6l5.5,-10.4Z"/>
<path d="M916.6,701.0H948.8l-5.5,10.4l5.5,10.4H916.6l5.5,-10.4Z"/>
<path d="M1073.8,521.6H1113.3l-4.0,8.0l4.0,8.0H1073.8l4.0,-8.0Z"/>
<path d="M1059.2,534.0H1089.8l-4.0,8.0l4.0,8.0H1059.2l4.0,-8.0Z"/>
<path d="M1177.7,475.0H1224.4l-4.0,8.0l4.0,8.0H1177.7l4.0,-8.0Z"/>
<path d="M1183.2,482.0H1222.8l-4.0,8.0l4.0,8.0H1183.2l4.0,-8.0Z"/>
<path d="M1208.2,455.3H1243.8l-4.0,8.0l4.0,8.0H1208.2l4.0,-8.0Z"/>
<path d="M1332.9,373.8H1377.8l-5.5,10.4l5.5,10.4H1332.9l5.5,-10.4Z"/>
<path d="M1209.2,451.5H1243.4l-4.0,8.0l4.0,8.0H1209.2l4.0,-8.0Z"/>
<path d="M1201.2,461.0H1240.8l-4.0,8.0l4.0,8.0H1201.2l4.0,-8.0Z"/>
<path d="M1177.0,473.0H1223.8l-4.0,8.0l4.0,8.0H1177.0l4.0,-8.0Z"/>
<path d="M1169.2,485.5H1220.8l-4.0,8.0l4.0,8.0H1169.2l4.0,-8.0Z"/>
<path d="M1099.2,480.0H1150.8l-4.0,8.0l4.0,8.0H1099.2l4.0,-8.0Z"/>
<path d="M1122.2,489.0H1165.8l-4.0,8.0l4.0,8.0H1122.2l4.0,-8.0Z"/>
<path d="M1451.9,465.2H1518.3l-4.0,8.0l4.0,8.0H1451.9l4.0,-8.0Z"/>
<path d="M1454.2,472.4H1520.8l-4.0,8.0l4.0,8.0H1454.2l4.0,-8.0Z"/>
<path d="M1649.2,598.0H1703.4l-5.5,10.4l5.5,10.4H1649.2l5.5,-10.4Z"/>
<rect x="324.5" y="844" width="19.7" height="10" fill="#7f7f7f"/>
</g>
<rect x="325" y="141" width="1605" height="431" fill="#5b9bd5" fill-opacity="0.255"/>
<rect x="325" y="600" width="1598" height="402" fill="#fbe5d6" fill-opacity="0.22"/>
<g stroke="#fff" stroke-opacity="0.35" stroke-width="1.5"><path d="M326,220.5H1930M326,316.5H1930"/><path d="M326,820.5H1923M326,969H1923" stroke-opacity="0.6"/></g>
<rect x="1164" y="306" width="326" height="87.5" fill="#fe9c57" fill-opacity="0.27"/>
<rect x="583.75" y="756" width="332.0" height="101.5" fill="#fe9c57" fill-opacity="0.27"/>
<rect x="1686" y="751.5" width="231" height="104.0" fill="#fe9c57" fill-opacity="0.27"/>
<rect x="326" y="150" width="1604" height="4" fill="#262626"/>
<g><rect x="331.00" y="398.45" width="17.5" height="17.5" fill="#ff0000"/><rect x="365.50" y="398.45" width="17.5" height="17.5" fill="#ff0000"/><rect x="400.00" y="398.45" width="17.5" height="17.5" fill="#ff0000"/><rect x="434.50" y="398.45" width="17.5" height="17.5" fill="#ff0000"/><rect x="469.00" y="398.45" width="17.5" height="17.5" fill="#ff0000"/><rect x="503.50" y="398.45" width="17.5" height="17.5" fill="#ff0000"/><rect x="538.00" y="398.45" width="17.5" height="17.5" fill="#ff0000"/><rect x="572.50" y="398.45" width="17.5" height="17.5" fill="#ff0000"/><rect x="607.00" y="398.45" width="17.5" height="17.5" fill="#ff0000"/><rect x="641.50" y="398.45" width="17.5" height="17.5" fill="#ff0000"/><rect x="676.00" y="398.45" width="17.5" height="17.5" fill="#ff0000"/><rect x="710.50" y="398.45" width="17.5" height="17.5" fill="#ff0000"/><rect x="745.00" y="398.45" width="17.5" height="17.5" fill="#ff0000"/><rect x="779.50" y="398.45" width="17.5" height="17.5" fill="#ff0000"/><rect x="814.00" y="398.45" width="17.5" height="17.5" fill="#ff0000"/><rect x="848.50" y="398.45" width="17.5" height="17.5" fill="#ff0000"/><rect x="883.00" y="398.45" width="17.5" height="17.5" fill="#ff0000"/><rect x="917.50" y="398.45" width="17.5" height="17.5" fill="#ff0000"/><rect x="952.00" y="398.45" width="17.5" height="17.5" fill="#ff0000"/><rect x="986.50" y="398.45" width="17.5" height="17.5" fill="#ff0000"/><rect x="1021.00" y="398.45" width="17.5" height="17.5" fill="#ff0000"/><rect x="1055.50" y="398.45" width="17.5" height="17.5" fill="#ff0000"/><rect x="1090.00" y="398.45" width="17.5" height="17.5" fill="#ff0000"/><rect x="1124.50" y="398.45" width="17.5" height="17.5" fill="#ff0000"/><rect x="1159.00" y="398.45" width="17.5" height="17.5" fill="#ff0000"/><rect x="1193.50" y="398.45" width="17.5" height="17.5" fill="#ff0000"/><rect x="1228.00" y="398.45" width="17.5" height="17.5" fill="#ff0000"/><rect x="1262.50" y="398.45" width="17.5" height="17.5" fill="#ff0000"/><rect x="1297.00" y="398.45" width="17.5" height="17.5" fill="#ff0000"/><rect x="1331.50" y="398.45" width="17.5" height="17.5" fill="#ff0000"/><rect x="1366.00" y="398.45" width="17.5" height="17.5" fill="#ff0000"/><rect x="1400.50" y="398.45" width="17.5" height="17.5" fill="#ff0000"/><rect x="1435.00" y="398.45" width="17.5" height="17.5" fill="#ff0000"/><rect x="1469.50" y="398.45" width="17.5" height="17.5" fill="#ff0000"/><rect x="1504.00" y="398.45" width="17.5" height="17.5" fill="#ff0000"/><rect x="1538.50" y="398.45" width="17.5" height="17.5" fill="#ff0000"/><rect x="1573.00" y="398.45" width="17.5" height="17.5" fill="#ff0000"/><rect x="1607.50" y="398.45" width="17.5" height="17.5" fill="#ff0000"/><rect x="1642.00" y="398.45" width="17.5" height="17.5" fill="#ff0000"/><rect x="1676.50" y="398.45" width="17.5" height="17.5" fill="#ff0000"/><rect x="1711.00" y="398.45" width="17.5" height="17.5" fill="#ff0000"/><rect x="1745.50" y="398.45" width="17.5" height="17.5" fill="#ff0000"/><rect x="1780.00" y="398.45" width="17.5" height="17.5" fill="#ff0000"/><rect x="1814.50" y="398.45" width="17.5" height="17.5" fill="#ff0000"/><rect x="1849.00" y="398.45" width="17.5" height="17.5" fill="#ff0000"/><rect x="1883.50" y="398.45" width="17.5" height="17.5" fill="#ff0000"/><rect x="1918.00" y="398.45" width="17.5" height="17.5" fill="#ff0000"/></g>
<rect x="346.3" y="160.3" width="660.9" height="132.9" fill="none" stroke="#000" stroke-width="3.6"/>
<rect x="336.2" y="868.3" width="666.5" height="133.7" fill="none" stroke="#000" stroke-width="3.6"/>
<rect x="324.5" y="143" width="3" height="858" fill="#8c8683" fill-opacity="0.7"/>
<rect x="1922" y="562" width="8" height="10.5" fill="#fff"/>
<g fill="#232323">
<rect x="312.5" y="140" width="12.3" height="875"/>
<polygon points="318.8,105 338,143 299.5,143"/>
<rect x="1930" y="130" width="12.5" height="883.5"/>
<polygon points="1936,94 1956,132 1917,132"/>
<rect x="312.5" y="1001" width="1642" height="12.5"/>
<polygon points="1990,1007.5 1952.5,988.5 1952.5,1027"/>
</g>
<rect x="287.5" y="400.5" width="42.5" height="13.5" fill="#000"/>
<rect x="280" y="735" width="41" height="12.5" fill="#000"/>
<g><rect x="317.20" y="558.50" width="17.6" height="17.6" fill="rgba(31,78,121,0.65)"/><rect x="351.70" y="558.50" width="17.6" height="17.6" fill="rgba(31,78,121,0.65)"/><rect x="386.20" y="558.50" width="17.6" height="17.6" fill="rgba(31,78,121,0.65)"/><rect x="420.70" y="558.50" width="17.6" height="17.6" fill="rgba(31,78,121,0.65)"/><rect x="455.20" y="558.50" width="17.6" height="17.6" fill="rgba(31,78,121,0.65)"/><rect x="489.70" y="558.50" width="17.6" height="17.6" fill="rgba(31,78,121,0.65)"/><rect x="524.20" y="558.50" width="17.6" height="17.6" fill="rgba(31,78,121,0.65)"/><rect x="558.70" y="558.50" width="17.6" height="17.6" fill="rgba(31,78,121,0.65)"/><rect x="593.20" y="558.50" width="17.6" height="17.6" fill="rgba(31,78,121,0.65)"/><rect x="627.70" y="558.50" width="17.6" height="17.6" fill="rgba(31,78,121,0.65)"/><rect x="662.20" y="558.50" width="17.6" height="17.6" fill="rgba(31,78,121,0.65)"/><rect x="696.70" y="558.50" width="17.6" height="17.6" fill="rgba(31,78,121,0.65)"/><rect x="731.20" y="558.50" width="17.6" height="17.6" fill="rgba(31,78,121,0.65)"/><rect x="765.70" y="558.50" width="17.6" height="17.6" fill="rgba(31,78,121,0.65)"/><rect x="800.20" y="558.50" width="17.6" height="17.6" fill="rgba(31,78,121,0.65)"/><rect x="834.70" y="558.50" width="17.6" height="17.6" fill="rgba(31,78,121,0.65)"/><rect x="869.20" y="558.50" width="17.6" height="17.6" fill="rgba(31,78,121,0.65)"/><rect x="903.70" y="558.50" width="17.6" height="17.6" fill="rgba(31,78,121,0.65)"/><rect x="938.20" y="558.50" width="17.6" height="17.6" fill="rgba(31,78,121,0.65)"/><rect x="972.70" y="558.50" width="17.6" height="17.6" fill="rgba(31,78,121,0.65)"/><rect x="1007.20" y="558.50" width="17.6" height="17.6" fill="rgba(31,78,121,0.65)"/><rect x="1041.70" y="558.50" width="17.6" height="17.6" fill="rgba(31,78,121,0.65)"/><rect x="1076.20" y="558.50" width="17.6" height="17.6" fill="rgba(31,78,121,0.65)"/><rect x="1110.70" y="558.50" width="17.6" height="17.6" fill="rgba(31,78,121,0.65)"/><rect x="1145.20" y="558.50" width="17.6" height="17.6" fill="rgba(31,78,121,0.65)"/><rect x="1179.70" y="558.50" width="17.6" height="17.6" fill="rgba(31,78,121,0.65)"/><rect x="1214.20" y="558.50" width="17.6" height="17.6" fill="rgba(31,78,121,0.65)"/><rect x="1248.70" y="558.50" width="17.6" height="17.6" fill="rgba(31,78,121,0.65)"/><rect x="1283.20" y="558.50" width="17.6" height="17.6" fill="rgba(31,78,121,0.65)"/><rect x="1317.70" y="558.50" width="17.6" height="17.6" fill="rgba(31,78,121,0.65)"/><rect x="1352.20" y="558.50" width="17.6" height="17.6" fill="rgba(31,78,121,0.65)"/><rect x="1386.70" y="558.50" width="17.6" height="17.6" fill="rgba(31,78,121,0.65)"/><rect x="1421.20" y="558.50" width="17.6" height="17.6" fill="rgba(31,78,121,0.65)"/><rect x="1455.70" y="558.50" width="17.6" height="17.6" fill="rgba(31,78,121,0.65)"/><rect x="1490.20" y="558.50" width="17.6" height="17.6" fill="rgba(31,78,121,0.65)"/><rect x="1524.70" y="558.50" width="17.6" height="17.6" fill="rgba(31,78,121,0.65)"/><rect x="1559.20" y="558.50" width="17.6" height="17.6" fill="rgba(31,78,121,0.65)"/><rect x="1593.70" y="558.50" width="17.6" height="17.6" fill="rgba(31,78,121,0.65)"/><rect x="1628.20" y="558.50" width="17.6" height="17.6" fill="rgba(31,78,121,0.65)"/><rect x="1662.70" y="558.50" width="17.6" height="17.6" fill="rgba(31,78,121,0.65)"/><rect x="1697.20" y="558.50" width="17.6" height="17.6" fill="rgba(31,78,121,0.65)"/><rect x="1731.70" y="558.50" width="17.6" height="17.6" fill="rgba(31,78,121,0.65)"/><rect x="1766.20" y="558.50" width="17.6" height="17.6" fill="rgba(31,78,121,0.65)"/><rect x="1800.70" y="558.50" width="17.6" height="17.6" fill="rgba(31,78,121,0.65)"/><rect x="1835.20" y="558.50" width="17.6" height="17.6" fill="rgba(31,78,121,0.65)"/><rect x="1869.70" y="558.50" width="17.6" height="17.6" fill="rgba(31,78,121,0.65)"/><rect x="1904.20" y="558.50" width="17.6" height="17.6" fill="rgba(31,78,121,0.65)"/></g>
<g><rect x="316.50" y="732.00" width="17.5" height="18" fill="#ff0000"/><rect x="351.00" y="732.00" width="17.5" height="18" fill="#ff0000"/><rect x="385.50" y="732.00" width="17.5" height="18" fill="#ff0000"/><rect x="420.00" y="732.00" width="17.5" height="18" fill="#ff0000"/><rect x="454.50" y="732.00" width="17.5" height="18" fill="#ff0000"/><rect x="489.00" y="732.00" width="17.5" height="18" fill="#ff0000"/><rect x="523.50" y="732.00" width="17.5" height="18" fill="#ff0000"/><rect x="558.00" y="732.00" width="17.5" height="18" fill="#ff0000"/><rect x="592.50" y="732.00" width="17.5" height="18" fill="#ff0000"/><rect x="627.00" y="732.00" width="17.5" height="18" fill="#ff0000"/><rect x="661.50" y="732.00" width="17.5" height="18" fill="#ff0000"/><rect x="696.00" y="732.00" width="17.5" height="18" fill="#ff0000"/><rect x="730.50" y="732.00" width="17.5" height="18" fill="#ff0000"/><rect x="765.00" y="732.00" width="17.5" height="18" fill="#ff0000"/><rect x="799.50" y="732.00" width="17.5" height="18" fill="#ff0000"/><rect x="834.00" y="732.00" width="17.5" height="18" fill="#ff0000"/><rect x="868.50" y="732.00" width="17.5" height="18" fill="#ff0000"/><rect x="903.00" y="732.00" width="17.5" height="18" fill="#ff0000"/><rect x="937.50" y="732.00" width="17.5" height="18" fill="#ff0000"/><rect x="972.00" y="732.00" width="17.5" height="18" fill="#ff0000"/><rect x="1006.50" y="732.00" width="17.5" height="18" fill="#ff0000"/><rect x="1041.00" y="732.00" width="17.5" height="18" fill="#ff0000"/><rect x="1075.50" y="732.00" width="17.5" height="18" fill="#ff0000"/><rect x="1110.00" y="732.00" width="17.5" height="18" fill="#ff0000"/><rect x="1144.50" y="732.00" width="17.5" height="18" fill="#ff0000"/><rect x="1179.00" y="732.00" width="17.5" height="18" fill="#ff0000"/><rect x="1213.50" y="732.00" width="17.5" height="18" fill="#ff0000"/><rect x="1248.00" y="732.00" width="17.5" height="18" fill="#ff0000"/><rect x="1282.50" y="732.00" width="17.5" height="18" fill="#ff0000"/><rect x="1317.00" y="732.00" width="17.5" height="18" fill="#ff0000"/><rect x="1351.50" y="732.00" width="17.5" height="18" fill="#ff0000"/><rect x="1386.00" y="732.00" width="17.5" height="18" fill="#ff0000"/><rect x="1420.50" y="732.00" width="17.5" height="18" fill="#ff0000"/><rect x="1455.00" y="732.00" width="17.5" height="18" fill="#ff0000"/><rect x="1489.50" y="732.00" width="17.5" height="18" fill="#ff0000"/><rect x="1524.00" y="732.00" width="17.5" height="18" fill="#ff0000"/><rect x="1558.50" y="732.00" width="17.5" height="18" fill="#ff0000"/><rect x="1593.00" y="732.00" width="17.5" height="18" fill="#ff0000"/><rect x="1627.50" y="732.00" width="17.5" height="18" fill="#ff0000"/><rect x="1662.00" y="732.00" width="17.5" height="18" fill="#ff0000"/><rect x="1696.50" y="732.00" width="17.5" height="18" fill="#ff0000"/><rect x="1731.00" y="732.00" width="17.5" height="18" fill="#ff0000"/><rect x="1765.50" y="732.00" width="17.5" height="18" fill="#ff0000"/><rect x="1800.00" y="732.00" width="17.5" height="18" fill="#ff0000"/><rect x="1834.50" y="732.00" width="17.5" height="18" fill="#ff0000"/><rect x="1869.00" y="732.00" width="17.5" height="18" fill="#ff0000"/><rect x="1903.50" y="732.00" width="17.5" height="18" fill="#ff0000"/></g>
<g fill="#000"><rect x="314" y="1010" width="9" height="23.5"/><rect x="456.5" y="1016" width="9.5" height="24"/><rect x="577.5" y="1010" width="8.5" height="26"/><rect x="700" y="1010" width="9" height="26"/><rect x="819" y="1010" width="8.5" height="26"/><rect x="939.5" y="1010" width="9.5" height="28.5"/><rect x="1060" y="1010" width="9" height="23.5"/><rect x="1184" y="1010" width="8.5" height="23.5"/><rect x="1302" y="1010" width="9" height="23.5"/><rect x="1429.5" y="1010" width="8.5" height="23.5"/><rect x="1549.5" y="1010" width="9.5" height="30"/><rect x="1671" y="1010" width="10" height="28"/><rect x="1791.75" y="1010" width="8.75" height="28.5"/><rect x="1910" y="1010" width="9" height="28"/></g>
<g fill="#000"><clipPath id="c0" clipPathUnits="userSpaceOnUse"><path d="M0,-40H30V-7.5H18.9V4H11.1V-7.5H0Z"/></clipPath><clipPath id="c1" clipPathUnits="userSpaceOnUse"><path d="M0,-40H30V-7.5H18.9V4H11.1V-7.5H0Z"/></clipPath><clipPath id="c2" clipPathUnits="userSpaceOnUse"><path d="M0,-40H30V-7.5H18.9V4H11.1V-7.5H0Z"/></clipPath><clipPath id="c3" clipPathUnits="userSpaceOnUse"><path d="M0,-40H30V-7.5H18.9V4H11.1V-7.5H0Z"/></clipPath><clipPath id="c4" clipPathUnits="userSpaceOnUse"><path d="M0,-40H30V-7.5H18.9V4H11.1V-7.5H0Z"/></clipPath>
<text transform="translate(52.75,69.50) scale(1.0495,1.0000)" font-family="'Liberation Serif',serif" font-size="46" font-style="italic">Line</text> <text transform="translate(145.50,69.50) scale(1.0388,1.0000)" font-family="'Liberation Serif',serif" font-size="46" font-style="italic">capacity</text>
<text transform="translate(49.00,128.00) scale(1.0500,1.0000)" font-family="'Liberation Serif',serif" font-size="46" font-style="italic">Power</text> <text transform="translate(177.00,128.00) scale(1.0562,1.0000)" font-family="'Liberation Sans',sans-serif" font-size="41">[kVA]</text>
<text transform="translate(15.00,427.50) scale(1.0161,1.0000)" font-family="'Liberation Serif',serif" font-size="47.5" font-style="italic">Power</text> <text transform="translate(148.75,427.50) scale(1.0396,1.0000)" font-family="'Liberation Serif',serif" font-size="47.5" font-style="italic">Limit</text>
<text transform="translate(384.80,255.70) scale(0.9891,1.0000)" font-family="'Liberation Serif',serif" font-size="86" font-style="italic">RES</text> <text transform="translate(521.00,268.50) skewX(-18) scale(1.1321,1.0661)" font-family="'Liberation Serif',serif" font-size="100" font-style="italic" stroke="#d5e6f4" stroke-width="0.5" stroke-linejoin="round">&gt;</text> <text transform="translate(618.80,255.70) scale(1.0034,1.0000)" font-family="'Liberation Serif',serif" font-size="86" font-style="italic">Load</text><text transform="translate(770.25,269.90) skewX(-19) scale(1.1089,1.1479)" font-family="'Liberation Serif',serif" font-size="100" font-style="italic" stroke="#d5e6f4" stroke-width="1.0" stroke-linejoin="round">+</text><text transform="translate(849.70,255.70) scale(0.9614,1.0000)" font-family="'Liberation Serif',serif" font-size="86" font-style="italic">EV</text>
<text transform="translate(1069.75,243.60) scale(0.9594,1.0000)" font-family="'Liberation Serif',serif" font-size="82.5" font-style="italic">ESS</text> <text transform="translate(1205.45,243.60) scale(0.9875,1.0000)" font-family="'Liberation Serif',serif" font-size="82.5" font-style="italic">charging</text>
<text transform="translate(644.00,507.00) scale(1.0175,1.0000)" font-family="'Liberation Serif',serif" font-size="80" font-style="italic" font-weight="bold" letter-spacing="5">Power</text><text transform="translate(879.50,507.00) scale(1.3204,1.0000)" font-family="'Liberation Serif',serif" font-size="80" stroke="#d5e6f4" stroke-width="1.8" stroke-linejoin="round">(</text><text transform="translate(912.00,507.00) scale(1.2398,1.0000)" font-family="'Liberation Serif',serif" font-size="80" font-style="italic" font-weight="bold">t</text><text transform="translate(941.00,507.00) scale(1.2632,1.0000)" font-family="'Liberation Serif',serif" font-size="80" stroke="#d5e6f4" stroke-width="1.8" stroke-linejoin="round">)</text>
<text transform="translate(23.88,750.00) scale(1.0162,1.0000)" font-family="'Liberation Serif',serif" font-size="47.5" font-style="italic">Power</text> <text transform="translate(154.75,750.00) scale(1.0824,1.0000)" font-family="'Liberation Serif',serif" font-size="47.5" font-style="italic">limit</text>
<text transform="translate(1071.20,855.10) scale(0.9519,1.0000)" font-family="'Liberation Serif',serif" font-size="82.5" font-style="italic">ESS</text> <text transform="translate(1204.95,855.10) scale(0.9891,1.0000)" font-family="'Liberation Serif',serif" font-size="82.5" font-style="italic">discharging</text>
<text transform="translate(372.20,962.30) scale(0.9904,1.0000)" font-family="'Liberation Serif',serif" font-size="86" font-style="italic">RES</text> <text transform="translate(509.00,975.35) skewX(-18) scale(1.1303,1.0746)" font-family="'Liberation Serif',serif" font-size="100" font-style="italic" stroke="#fef9f6" stroke-width="0.5" stroke-linejoin="round">&lt;</text> <text transform="translate(606.00,962.30) scale(1.0045,1.0000)" font-family="'Liberation Serif',serif" font-size="86" font-style="italic">Load</text><text transform="translate(757.85,976.30) skewX(-19) scale(1.1089,1.1513)" font-family="'Liberation Serif',serif" font-size="100" font-style="italic" stroke="#fef9f6" stroke-width="1.0" stroke-linejoin="round">+</text><text transform="translate(837.30,962.30) scale(0.9614,1.0000)" font-family="'Liberation Serif',serif" font-size="86" font-style="italic">EV</text>
<text transform="translate(1970.00,173.00) scale(1.0607,1.0000)" font-family="'Liberation Serif',serif" font-size="45" font-style="italic">Voltage</text> <text transform="translate(2119.00,173.00) scale(1.0222,1.0000)" font-family="'Liberation Sans',sans-serif" font-size="42">[V]</text>
<text transform="translate(1963.38,412.00) scale(1.0171,1.0000)" font-family="'Liberation Serif',serif" font-size="47.5" font-style="italic">Upper</text> <text transform="translate(2102.75,412.00) scale(1.0824,1.0000)" font-family="'Liberation Serif',serif" font-size="47.5" font-style="italic">limit</text>
<text transform="translate(1965.25,574.50) scale(1.0379,1.0000)" font-family="'Liberation Serif',serif" font-size="47" font-style="italic">Reference</text>
<text transform="translate(1974.38,745.50) scale(1.0500,1.0000)" font-family="'Liberation Serif',serif" font-size="47" font-style="italic">Lower</text> <text transform="translate(2115.12,745.50) scale(1.0834,1.0000)" font-family="'Liberation Serif',serif" font-size="47" font-style="italic">limit</text>
<text transform="translate(322.00,1091.20) scale(1.0385,1.0000)" font-family="'Liberation Sans',sans-serif" font-size="51.5" stroke="#000" stroke-width="1.6" stroke-linejoin="round">0</text>
<text transform="translate(443.45,1091.20) scale(1.1736,1.0000)" font-family="'Liberation Sans',sans-serif" font-size="51.5" stroke="#000" stroke-width="1.6" stroke-linejoin="round" clip-path="url(#c0)">1</text>
<text transform="translate(564.00,1091.20) scale(1.1200,1.0000)" font-family="'Liberation Sans',sans-serif" font-size="51.5" stroke="#000" stroke-width="1.6" stroke-linejoin="round">2</text>
<text transform="translate(688.00,1091.20) scale(1.0385,1.0000)" font-family="'Liberation Sans',sans-serif" font-size="51.5" stroke="#000" stroke-width="1.6" stroke-linejoin="round">3</text>
<text transform="translate(809.00,1091.20) scale(1.0000,1.0000)" font-family="'Liberation Sans',sans-serif" font-size="51.5" stroke="#000" stroke-width="1.6" stroke-linejoin="round">4</text>
<text transform="translate(931.50,1091.20) scale(1.0385,1.0000)" font-family="'Liberation Sans',sans-serif" font-size="51.5" stroke="#000" stroke-width="1.6" stroke-linejoin="round">5</text>
<text transform="translate(1052.00,1091.20) scale(1.0800,1.0000)" font-family="'Liberation Sans',sans-serif" font-size="51.5" stroke="#000" stroke-width="1.6" stroke-linejoin="round">6</text>
<text transform="translate(1173.75,1091.20) scale(1.0808,1.0000)" font-family="'Liberation Sans',sans-serif" font-size="51.5" stroke="#000" stroke-width="1.6" stroke-linejoin="round">7</text>
<text transform="translate(1295.50,1091.20) scale(1.1168,1.0000)" font-family="'Liberation Sans',sans-serif" font-size="51.5" stroke="#000" stroke-width="1.6" stroke-linejoin="round">8</text>
<text transform="translate(1417.75,1091.20) scale(1.0807,1.0000)" font-family="'Liberation Sans',sans-serif" font-size="51.5" stroke="#000" stroke-width="1.6" stroke-linejoin="round">9</text>
<text transform="translate(1541.75,1091.20) scale(1.0293,1.0000)" font-family="'Liberation Sans',sans-serif" font-size="51.5" stroke="#000" stroke-width="1.6" stroke-linejoin="round" clip-path="url(#c1)">1</text><text transform="translate(1569.30,1091.20) scale(0.9929,1.0000)" font-family="'Liberation Sans',sans-serif" font-size="51.5" stroke="#000" stroke-width="1.6" stroke-linejoin="round">0</text>
<text transform="translate(1689.00,1091.20) scale(1.1333,1.0000)" font-family="'Liberation Sans',sans-serif" font-size="51.5" stroke="#000" stroke-width="1.6" stroke-linejoin="round" clip-path="url(#c2)">1</text><text transform="translate(1717.50,1091.20) scale(1.1333,1.0000)" font-family="'Liberation Sans',sans-serif" font-size="51.5" stroke="#000" stroke-width="1.6" stroke-linejoin="round" clip-path="url(#c3)">1</text>
<text transform="translate(1839.00,1091.20) scale(1.0667,1.0000)" font-family="'Liberation Sans',sans-serif" font-size="51.5" stroke="#000" stroke-width="1.6" stroke-linejoin="round" clip-path="url(#c4)">1</text><text transform="translate(1865.50,1091.20) scale(1.1200,1.0000)" font-family="'Liberation Sans',sans-serif" font-size="51.5" stroke="#000" stroke-width="1.6" stroke-linejoin="round">2</text>
<text transform="translate(1939.75,1096.50) scale(1.0824,1.0000)" font-family="'Liberation Serif',serif" font-size="46" font-style="italic">Time</text> <text transform="translate(2041.00,1096.50) scale(1.0306,1.0000)" font-family="'Liberation Sans',sans-serif" font-size="40.5">[hour]</text>
</g>
<g fill="none" stroke="#000" stroke-width="3.4" stroke-linecap="butt">
<path d="M1164,256.2 C1180,256.5 1194,261 1201,269 C1208,277.5 1207.5,288 1211.5,296 C1215,302 1221,305.5 1229,308.2"/>
<path d="M969.5,490 C990,490 1005,490.2 1015,490.6 C1035,491.8 1050,495.3 1068,495.8"/>
<path d="M1031.5,829 C1010,828.5 995,826.5 985.8,824 C979,821.5 976.5,818 973.6,815.7 C967,810.5 955,808 942,807.2"/>
<path d="M1595.8,855.8 C1608,855 1626,850 1635.3,840.8 C1642,833 1642.5,824 1645.6,817.1 C1649,811 1655,809 1662,808.2"/>
</g>
<polygon points="1230.5,295.3 1250.6,313 1224,320.2" fill="#000"/>
<clipPath id="cpa"><rect x="1164" y="306" width="326" height="87.5"/></clipPath>
<polygon points="1230.5,295.3 1250.6,313 1224,320.2" fill="#2e0d02" clip-path="url(#cpa)"/>
<polygon points="1067.2,483 1092.3,496 1067.2,509.3" fill="#000"/>
<polygon points="942.9,794.7 917.2,806.5 941.5,820" fill="#000"/>
<polygon points="1658.6,795.8 1686.6,804.5 1664.9,821.5" fill="#000"/>
</svg>
</body></html>
